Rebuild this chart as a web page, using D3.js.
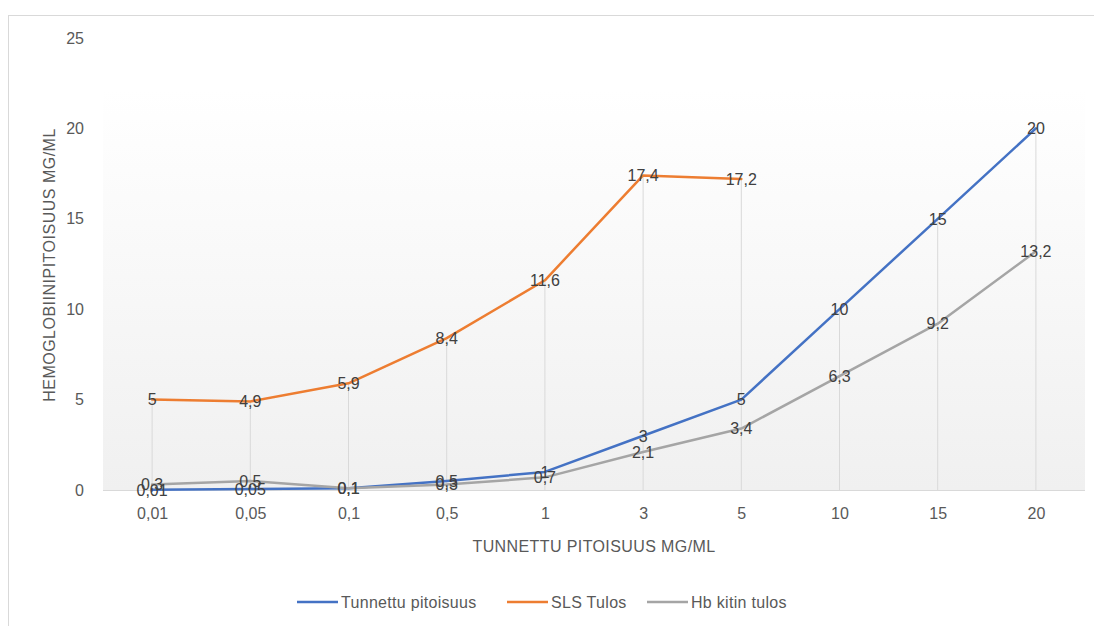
<!DOCTYPE html>
<html>
<head>
<meta charset="utf-8">
<script src="https://cdn.jsdelivr.net/npm/d3@7"></script>
<style>
  html, body { margin: 0; padding: 0; background: #fff; }
  svg text { font-family: "Liberation Sans", "Noto Sans", sans-serif; }
</style>
</head>
<body>
<svg id="chart" width="1094" height="626"></svg>
<script>
// Known concentrations (x categories) and measured haemoglobin results
const categories = ["0,01", "0,05", "0,1", "0,5", "1", "3", "5", "10", "15", "20"];
const tunnettu = [0.01, 0.05, 0.1, 0.5, 1, 3, 5, 10, 15, 20];
const slsTulos = [5, 4.9, 5.9, 8.4, 11.6, 17.4, 17.2, null, null, null];
const hbKitin = [0.3, 0.5, 0.1, 0.3, 0.7, 2.1, 3.4, 6.3, 9.2, 13.2];
const yTicks = [0, 5, 10, 15, 20, 25];

const series = [
  { name: "Tunnettu pitoisuus", values: tunnettu, color: "#4472C4" },
  { name: "SLS Tulos", values: slsTulos, color: "#ED7D31" },
  { name: "Hb kitin tulos", values: hbKitin, color: "#A5A5A5" }
];

const FS = 16;
const svg = d3.select("#chart");

// outer chart frame
svg.append("rect")
  .attr("x", 8.5).attr("y", 15.5)
  .attr("width", 1200).attr("height", 700)
  .attr("fill", "#fff").attr("stroke", "#d9d9d9").attr("stroke-width", 1);

const plot = { left: 103, right: 1085, top: 90, bottom: 490 };

const x = d3.scalePoint().domain(categories)
  .range([plot.left, plot.right]).padding(0.5);
const y = d3.scaleLinear().domain([0, 25]).range([490, 38]);

// plot area background: white fading to light grey
const defs = svg.append("defs");
const grad = defs.append("linearGradient").attr("id", "plotBg")
  .attr("x1", 0).attr("y1", 0).attr("x2", 0).attr("y2", 1);
grad.append("stop").attr("offset", "0%").attr("stop-color", "#ffffff");
grad.append("stop").attr("offset", "100%").attr("stop-color", "#f0f0f0");

svg.append("rect")
  .attr("x", plot.left).attr("y", plot.top)
  .attr("width", plot.right - plot.left).attr("height", plot.bottom - plot.top)
  .attr("fill", "url(#plotBg)");

// drop lines from the highest point of each category to the axis
const maxPerCat = categories.map((c, i) =>
  d3.max(series, s => s.values[i] == null ? -Infinity : s.values[i]));
svg.append("g").selectAll("line")
  .data(categories)
  .join("line")
  .attr("x1", d => x(d)).attr("x2", d => x(d))
  .attr("y1", (d, i) => y(maxPerCat[i]))
  .attr("y2", y(0))
  .attr("stroke", "#d9d9d9").attr("stroke-width", 1);

// x axis
const xAxis = svg.append("g")
  .attr("transform", `translate(0,${y(0)})`)
  .call(d3.axisBottom(x).tickSize(0).tickPadding(18));
xAxis.select(".domain")
  .attr("d", `M${plot.left},0.5H${plot.right}`)
  .attr("stroke", "#d9d9d9").attr("stroke-width", 1);
xAxis.selectAll("text")
  .attr("fill", "#595959").attr("font-size", FS)
  .attr("font-family", "Liberation Sans, sans-serif");

// y axis labels only
const yAxis = svg.append("g")
  .attr("transform", `translate(84,0)`)
  .call(d3.axisLeft(y).tickValues(yTicks).tickSize(0).tickPadding(0));
yAxis.select(".domain").remove();
yAxis.selectAll("text")
  .attr("fill", "#595959").attr("font-size", FS)
  .attr("font-family", "Liberation Sans, sans-serif");

// axis titles
svg.append("text")
  .attr("x", 594).attr("y", 552)
  .attr("text-anchor", "middle")
  .attr("fill", "#595959").attr("font-size", FS)
  .attr("letter-spacing", 0.4)
  .text("TUNNETTU PITOISUUS MG/ML");

svg.append("text")
  .attr("transform", "translate(55,265) rotate(-90)")
  .attr("text-anchor", "middle")
  .attr("fill", "#595959").attr("font-size", FS)
  .attr("letter-spacing", 0.5)
  .text("HEMOGLOBIINIPITOISUUS MG/ML");

// series lines
const line = d3.line()
  .defined(d => d.v != null)
  .x(d => x(d.c))
  .y(d => y(d.v));

const pts = s => categories.map((c, i) => ({ c, v: s.values[i] }));

svg.append("g").selectAll("path")
  .data(series)
  .join("path")
  .attr("d", s => line(pts(s)))
  .attr("fill", "none")
  .attr("stroke", s => s.color)
  .attr("stroke-width", 2.5)
  .attr("stroke-linejoin", "round")
  .attr("stroke-linecap", "round");

// data labels centred on the points
const fmt = v => String(v).replace(".", ",");
const labels = svg.append("g");
series.slice().reverse().forEach(s => {
  labels.selectAll(null)
    .data(pts(s).filter(d => d.v != null))
    .join("text")
    .attr("x", d => x(d.c))
    .attr("y", d => y(d.v))
    .attr("dy", "0.36em")
    .attr("text-anchor", "middle")
    .attr("fill", "#404040")
    .attr("font-size", FS)
    .text(d => fmt(d.v));
});

// legend
const legendItems = [
  { s: series[0], x: 297 },
  { s: series[1], x: 507 },
  { s: series[2], x: 647 }
];
const lg = svg.append("g");
legendItems.forEach(it => {
  lg.append("line")
    .attr("x1", it.x).attr("x2", it.x + 41)
    .attr("y1", 602).attr("y2", 602)
    .attr("stroke", it.s.color).attr("stroke-width", 2.5);
  lg.append("text")
    .attr("x", it.x + 44).attr("y", 602).attr("dy", "0.36em")
    .attr("fill", "#595959").attr("font-size", FS)
    .attr("letter-spacing", 0.3)
    .text(it.s.name);
});
</script>
</body>
</html>
